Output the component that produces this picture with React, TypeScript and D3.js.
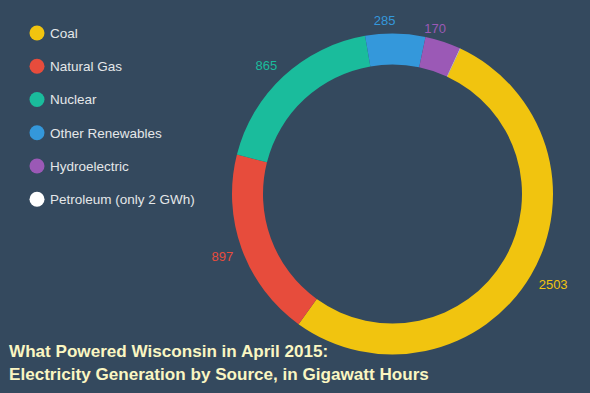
import React from "react";
import * as d3 from "d3";

const categories = ["Coal", "Natural Gas", "Nuclear", "Other Renewables", "Hydroelectric", "Petroleum"];
const values = [2503, 897, 865, 285, 170, 2];
const legendLabels = ["Coal", "Natural Gas", "Nuclear", "Other Renewables", "Hydroelectric", "Petroleum (only 2 GWh)"];
const colors = ["#f1c40f", "#e74c3c", "#1abc9c", "#3498db", "#9b59b6", "#ffffff"];
const titleLines = ["What Powered Wisconsin in April 2015:", "Electricity Generation by Source, in Gigawatt Hours"];

function App() {
    const width = 590;
    const height = 393;
    const cx = 392.5;
    const cy = 194;
    const outer = 160.5;
    const inner = 129.5;
    const rotation = 25; // degrees, whole donut is turned
    const labelR = outer + 9;

    const rows = categories.map((c, i) => ({name: c, value: values[i], color: colors[i]}));
    const pie = d3.pie<any>().sort(null).value((d: any) => d.value);
    const arcs = pie(rows);
    const arc = d3.arc<any>().innerRadius(inner).outerRadius(outer);

    const color = d3.scaleOrdinal<string, string>().domain(legendLabels).range(colors);
    const legendY = d3.scalePoint<string>().domain(legendLabels).range([33, 199.3]);

    const rot = (rotation * Math.PI) / 180;
    const font = "'Liberation Sans', Arial, Helvetica, sans-serif";

    return (
        <svg width={width} height={height} style={{position: "absolute", left: 0, top: 0}}>
            <rect width={width} height={height} fill="#34495e" />
            <g transform={`translate(${cx},${cy}) rotate(${rotation})`}>
                {arcs.map((d, i) => (
                    <path key={`arc-${i}`} d={arc(d) as string} fill={d.data.color} />
                ))}
            </g>
            <g transform={`translate(${cx},${cy})`}>
                {arcs.filter((d) => d.data.name !== "Petroleum").map((d, i) => {
                    const mid = (d.startAngle + d.endAngle) / 2;
                    const a = mid + rot;
                    const x = labelR * Math.sin(a);
                    const y = -labelR * Math.cos(a);
                    const top = Math.cos(a) > 0;
                    return (
                        <text key={`lab-${i}`} x={x} y={y}
                              dy={top ? "0em" : "0.72em"}
                              textAnchor={mid < Math.PI ? "start" : "end"}
                              fill={d.data.color} fontSize={13} fontFamily={font}>
                            {d3.format("d")(d.data.value)}
                        </text>
                    );
                })}
            </g>
            <g>
                {legendLabels.map((l) => (
                    <g key={l} transform={`translate(37,${legendY(l)})`}>
                        <circle r={7.5} fill={color(l)} />
                        <text x={13} dy="0.36em" fill="#e4e7e9" fontSize={13.5} fontFamily={font}>{l}</text>
                    </g>
                ))}
            </g>
            <g fontFamily={font} fontWeight="bold" fontSize={17.1} fill="#faf6c2">
                {titleLines.map((t, i) => (
                    <text key={t} x={9} y={357 + i * 22.5}>{t}</text>
                ))}
            </g>
        </svg>
    );
}

export default App;
